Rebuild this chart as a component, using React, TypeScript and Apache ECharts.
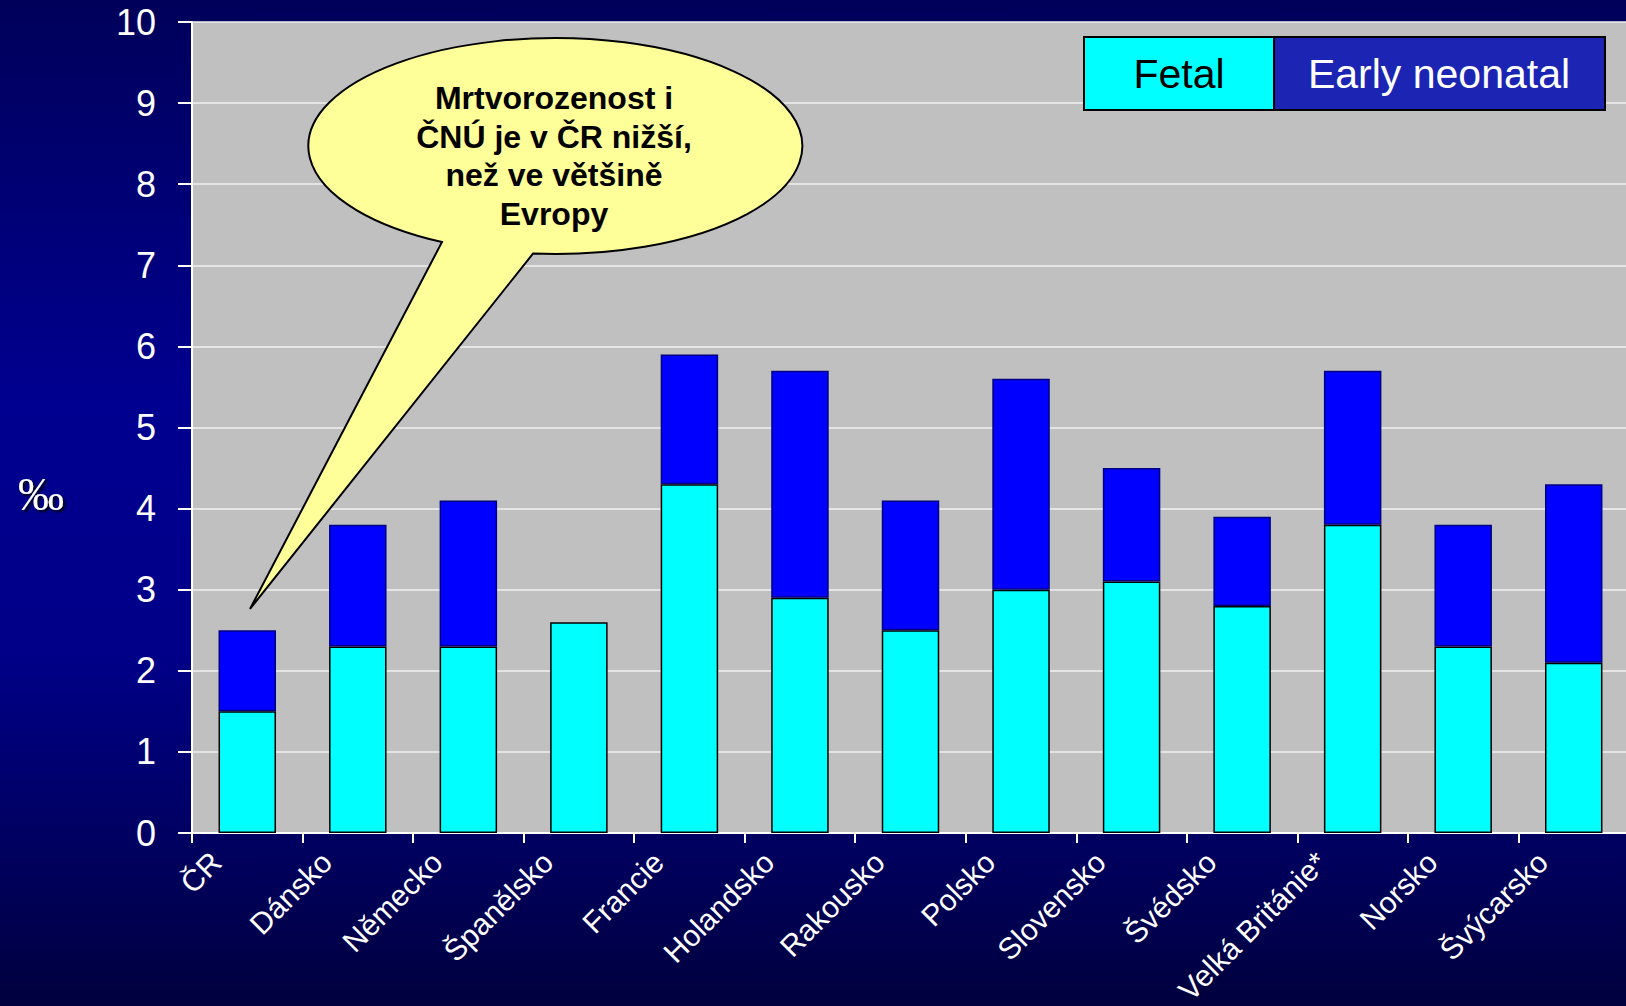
import React, { useEffect, useRef } from "react";
import * as echarts from "echarts";

const categories = [
  "ČR",
  "Dánsko",
  "Německo",
  "Španělsko",
  "Francie",
  "Holandsko",
  "Rakousko",
  "Polsko",
  "Slovensko",
  "Švédsko",
  "Velká Británie*",
  "Norsko",
  "Švýcarsko",
];
const fetal = [1.5, 2.3, 2.3, 2.6, 4.3, 2.9, 2.5, 3.0, 3.1, 2.8, 3.8, 2.3, 2.1];
const earlyNeonatal = [1.0, 1.5, 1.8, null, 1.6, 2.8, 1.6, 2.6, 1.4, 1.1, 1.9, 1.5, 2.2];
const seriesNames = ["Fetal", "Early neonatal"];
const yMin = 0;
const yMax = 10;
const yStep = 1;
const unitLabel = "‰";
const calloutText = "Mrtvorozenost i\nČNÚ je v ČR nižší,\nnež ve většině\nEvropy";

const SANS = '"Liberation Sans", Arial, sans-serif';

let registered = false;
function registerCallout() {
  if (registered) return;
  registered = true;
  const d = "M 533 253.6 A 247 108 0 1 0 442 242 L 250 609 Z";
  echarts.graphic.registerShape("callout", echarts.graphic.extendPath(d, {}));
}

export default function App() {
  const ref = useRef<HTMLDivElement>(null);
  useEffect(() => {
    if (!ref.current) return;
    registerCallout();
    const chart = echarts.init(ref.current, undefined, { renderer: "svg" });
    const option: any = {
      animation: false,
      backgroundColor: {
        type: "linear",
        x: 0,
        y: 0,
        x2: 0,
        y2: 1,
        colorStops: [
          { offset: 0, color: "#00005a" },
          { offset: 0.4, color: "#000090" },
          { offset: 0.65, color: "#000088" },
          { offset: 1, color: "#00003e" },
        ],
      },
      grid: {
        left: 192,
        top: 22,
        bottom: 173,
        right: -3,
        show: true,
        backgroundColor: "#c0c0c0",
        borderWidth: 0,
        containLabel: false,
        outerBoundsMode: "none",
      },
      xAxis: {
        type: "category",
        data: categories,
        axisLine: { show: true, lineStyle: { color: "#ffffff", width: 2 } },
        axisTick: { show: true, length: 10, lineStyle: { color: "#ffffff", width: 2 } },
        axisLabel: {
          interval: 0,
          rotate: 45,
          color: "#ffffff",
          fontSize: 30,
          fontFamily: SANS,
          margin: -7,
          padding: [0, 44, 0, 0],
        },
        splitLine: { show: false },
      },
      yAxis: {
        type: "value",
        min: yMin,
        max: yMax,
        interval: yStep,
        axisLine: { show: true, lineStyle: { color: "#ffffff", width: 2 } },
        axisTick: { show: true, length: 14, lineStyle: { color: "#ffffff", width: 2 } },
        axisLabel: {
          color: "#ffffff",
          fontSize: 36,
          fontFamily: SANS,
          margin: 36,
        },
        splitLine: { show: true, lineStyle: { color: "#f0f0f0", width: 1.5 } },
      },
      series: [
        {
          name: seriesNames[0],
          type: "bar",
          stack: "total",
          data: fetal,
          barWidth: "52%",
          itemStyle: { color: "#00ffff", borderColor: "#000000", borderWidth: 1.5 },
        },
        {
          name: seriesNames[1],
          type: "bar",
          stack: "total",
          data: earlyNeonatal,
          barWidth: "52%",
          itemStyle: { color: "#0000ff", borderColor: "#000080", borderWidth: 1.5 },
        },
      ],
      graphic: [
        {
          type: "callout",
          z: 100,
          style: { fill: "#ffff99", stroke: "#000000", lineWidth: 2 },
        },
        {
          type: "text",
          z: 101,
          x: 554,
          y: 156,
          style: {
            text: calloutText,
            fill: "#000000",
            font: `bold 32px ${SANS}`,
            textAlign: "center",
            textVerticalAlign: "middle",
            align: "center",
            verticalAlign: "middle",
            lineHeight: 38.5,
          },
        },
        {
          type: "rect",
          z: 100,
          shape: { x: 1084, y: 37, width: 190, height: 73 },
          style: { fill: "#00ffff", stroke: "#000000", lineWidth: 2 },
        },
        {
          type: "rect",
          z: 100,
          shape: { x: 1274, y: 37, width: 331, height: 73 },
          style: { fill: "#1c24b4", stroke: "#000000", lineWidth: 2 },
        },
        {
          type: "text",
          z: 101,
          x: 1179,
          y: 74,
          style: {
            text: seriesNames[0],
            fill: "#000000",
            font: `41px ${SANS}`,
            textAlign: "center",
            textVerticalAlign: "middle",
            align: "center",
            verticalAlign: "middle",
          },
        },
        {
          type: "text",
          z: 101,
          x: 1439,
          y: 74,
          style: {
            text: seriesNames[1],
            fill: "#ffffff",
            font: `41px ${SANS}`,
            textAlign: "center",
            textVerticalAlign: "middle",
            align: "center",
            verticalAlign: "middle",
          },
        },
        {
          type: "text",
          z: 101,
          x: 41,
          y: 494,
          style: {
            text: unitLabel,
            fill: "#ffffff",
            font: `46px "Liberation Serif", "Times New Roman", serif`,
            textAlign: "center",
            textVerticalAlign: "middle",
            align: "center",
            verticalAlign: "middle",
            textShadowColor: "#000000",
            textShadowOffsetX: 2,
            textShadowOffsetY: 2,
            textShadowBlur: 2,
          },
        },
      ],
    };
    chart.setOption(option);
    return () => {
      chart.dispose();
    };
  }, []);
  return (
    <div
      ref={ref}
      style={{ position: "absolute", left: 0, top: 0, width: 1626, height: 1006 }}
    />
  );
}
